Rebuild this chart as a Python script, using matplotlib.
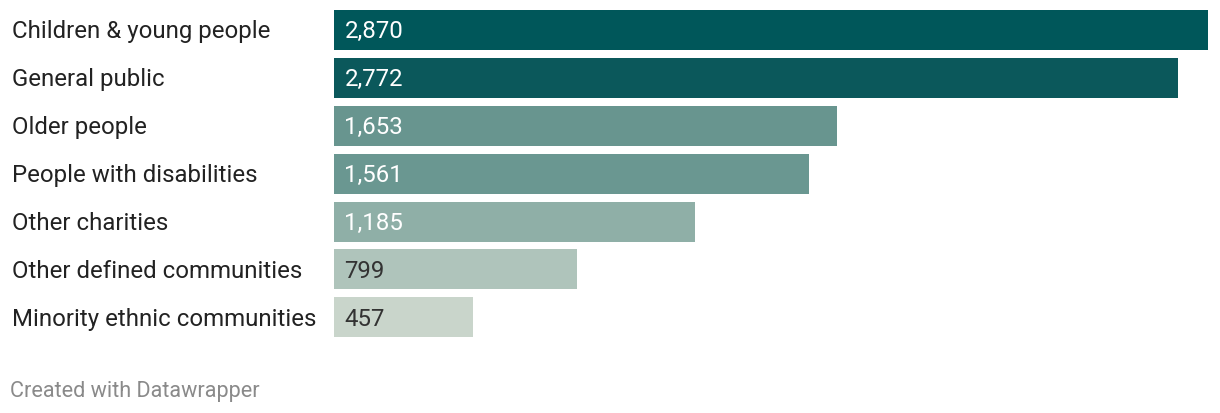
import matplotlib
matplotlib.use("Agg")
import matplotlib.pyplot as plt

categories = ["Children & young people", "General public", "Older people",
              "People with disabilities", "Other charities",
              "Other defined communities", "Minority ethnic communities"]
values = [2870, 2772, 1653, 1561, 1185, 799, 457]
colors = ["#00575A", "#0B585B", "#68958F", "#6A9791", "#8FAFA7", "#AFC4BB", "#C9D5CB"]
label_colors = ["white", "white", "white", "white", "white", "#333333", "#333333"]

plt.rcParams['font.family'] = ['Roboto', 'DejaVu Sans']

W, H = 1220, 414
fig = plt.figure(figsize=(W / 100, H / 100), dpi=100)
left, right, top, bottom = 334, 1208, 10.5, 338.5
ax = fig.add_axes([left / W, 1 - bottom / H, (right - left) / W, (bottom - top) / H])

bh = 40 / 48
pos = list(range(len(categories)))
ax.barh(pos, values, height=bh, color=colors)
ax.set_xlim(0, max(values))
ax.set_ylim(len(categories) - 1 + bh / 2, -bh / 2)
ax.axis("off")

for i, (c, v, lc) in enumerate(zip(categories, values, label_colors)):
    ax.text(10.5 / 874 * max(values), i + 1 / 48, f"{v:,}", color=lc, fontsize=17.3,
            va="center", ha="left")
    fig.text(12 / W, 1 - (31.5 + 48 * i) / H, c, color="#222222", fontsize=17.3,
             va="center", ha="left")

fig.text(10 / W, 1 - 392 / H, "Created with Datawrapper", color="#8a8a8a",
         fontsize=15.6, va="center", ha="left")

fig.savefig("out.png", dpi=100, facecolor="white")
